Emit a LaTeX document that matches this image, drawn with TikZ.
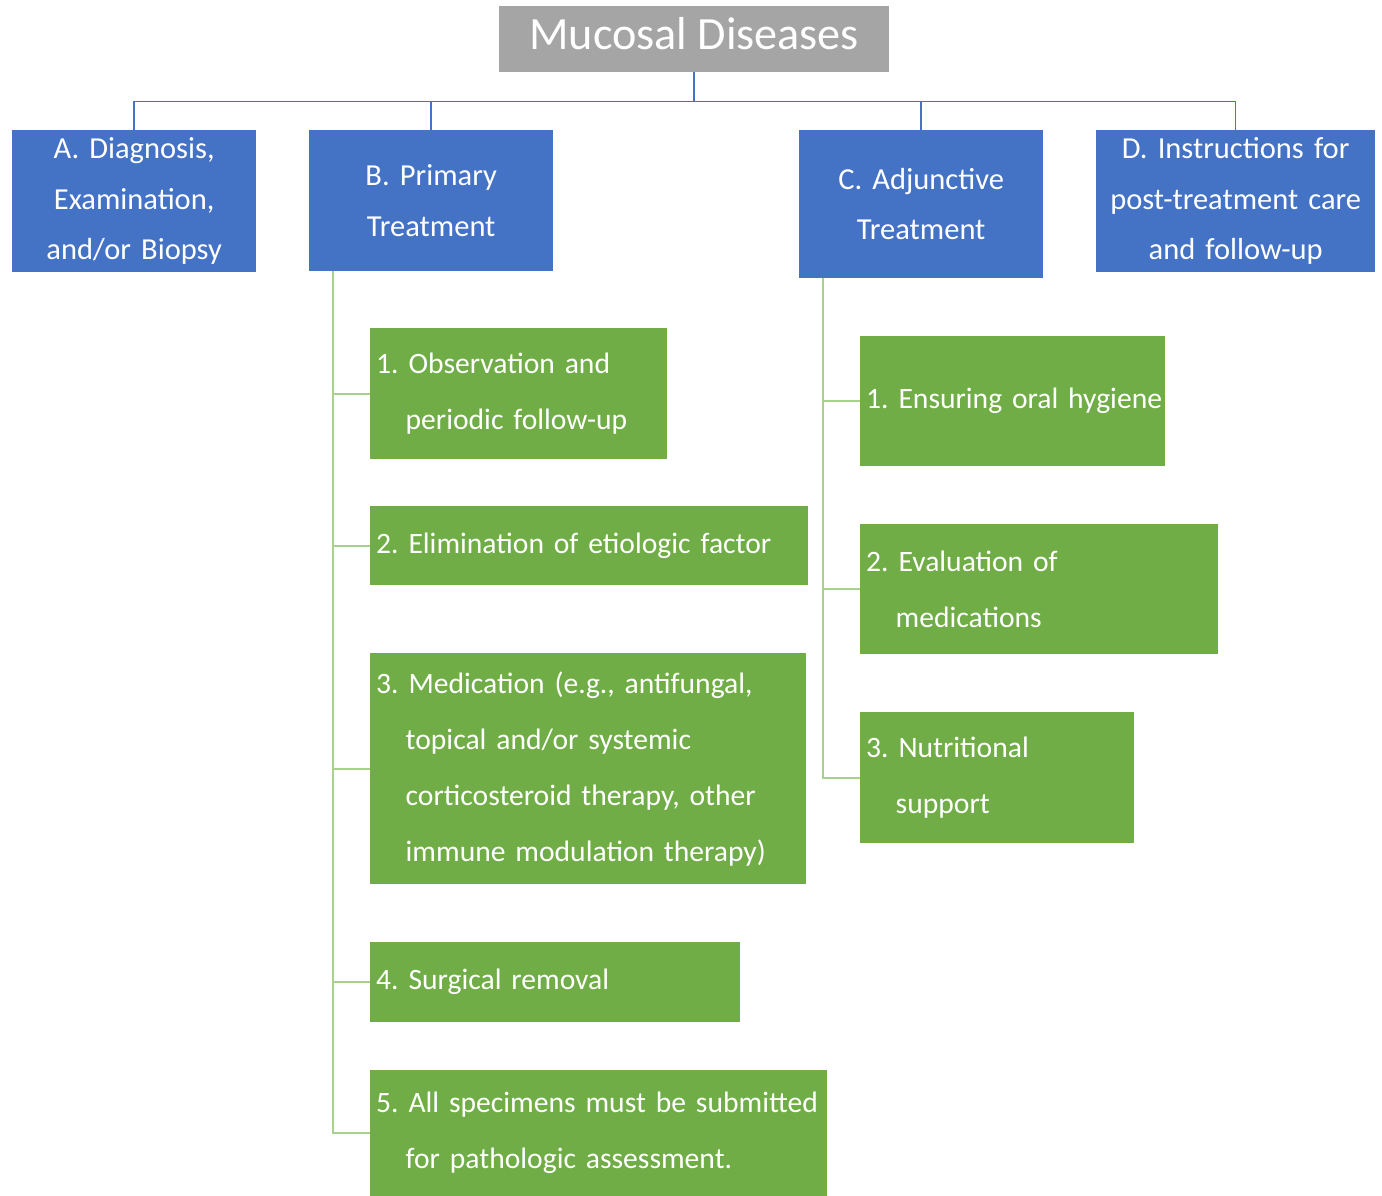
\documentclass[tikz,border=0pt]{standalone}
\usepackage{fontspec}
\setmainfont{Carlito}
\usepackage{tikz}
\usetikzlibrary{positioning,calc}

\definecolor{headgray}{HTML}{A5A5A5}
\definecolor{catblue}{HTML}{4472C4}
\definecolor{subgreen}{HTML}{70AD47}
\definecolor{treegreen}{HTML}{A9D18E}

\frenchspacing
\newcommand{\hang}{\hspace*{29.5pt}}

\begin{document}
\begin{tikzpicture}[
    x=1pt, y=-1pt,
    head/.style={rectangle, fill=headgray, text=white, anchor=north west, inner sep=0pt, align=center, text height=33pt, text depth=12pt, font=\fontsize{46.2}{50}\selectfont},
    cat/.style={rectangle, fill=catblue, text=white, anchor=north west, inner xsep=6pt, align=center, font=\fontsize{30.5}{50.5}\selectfont},
    sub/.style={rectangle, fill=subgreen, text=white, anchor=north west, inner xsep=6pt, align=left, font=\fontsize{29.6}{56}\selectfont},
    busline/.style={draw=catblue, line width=1.5pt},
    treeline/.style={draw=treegreen, line width=1.8pt}
]
\useasboundingbox (0,0) rectangle (1382,1196);

% Title
\node[head, minimum width=390pt, minimum height=66pt] (title) at (499,6) {Mucosal Diseases};

% Categories
\node[cat, text width=232pt, minimum height=142pt] (catA) at (12,130) {A. Diagnosis,\\Examination,\\and/or Biopsy};
\node[cat, text width=232pt, minimum height=141pt] (catB) at (309,130) {B. Primary\\Treatment};
\node[cat, text width=232pt, minimum height=148pt] (catC) at (799,130) {C. Adjunctive\\Treatment};
\node[cat, text width=267pt, minimum height=142pt] (catD) at (1096,130) {D. Instructions for\\post-treatment care\\and follow-up};

\coordinate (bus) at ($(title.south)+(0,29)$);
\draw[busline] (title.south) -- (bus);
\foreach \c in {catA,catB,catC,catD}
  \draw[busline] (bus) -| (\c.north);

% Primary treatment
\node[sub, text width=285pt, minimum height=131pt] (b1) at (370,328) {\mbox{1. Observation and}\\\hang periodic follow-up};
\node[sub, text width=426pt, minimum height=79pt] (b2) at (370,506) {\mbox{2. Elimination of etiologic factor}};
\node[sub, text width=424pt, minimum height=231pt] (b3) at (370,653) {\mbox{3. Medication (e.g., antifungal,}\\\hang topical and/or systemic\\\hang \mbox{corticosteroid therapy, other}\\\hang \mbox{immune modulation therapy)}};
\node[sub, text width=358pt, minimum height=80pt] (b4) at (370,942) {4. Surgical removal};
\node[sub, text width=445pt, minimum height=126pt] (b5) at (370,1070) {\mbox{5. All specimens must be submitted}\\\hang \mbox{for pathologic assessment.}};

\foreach \b in {b1,b2,b3,b4,b5}
  \draw[treeline] ([xshift=24pt]catB.south west) |- (\b.west);

% Adjunctive treatment
\node[sub, text width=293pt, minimum height=130pt] (c1) at (860,336) {\mbox{1. Ensuring oral hygiene}};
\node[sub, text width=346pt, minimum height=130pt] (c2) at (860,524) {2. Evaluation of\\\hang medications};
\node[sub, text width=262pt, minimum height=131pt] (c3) at (860,712) {3. Nutritional\\\hang support};

\foreach \c in {c1,c2,c3}
  \draw[treeline] ([xshift=24pt]catC.south west) |- (\c.west);

\end{tikzpicture}
\end{document}
